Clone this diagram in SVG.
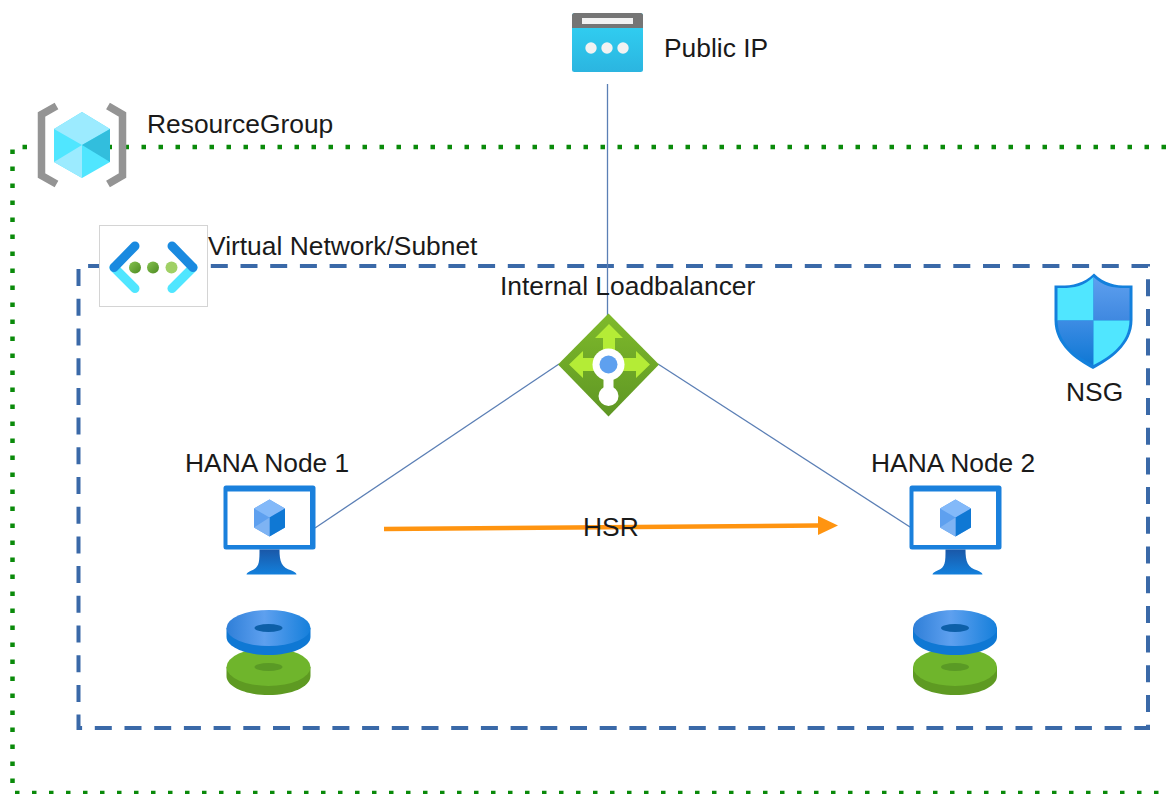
<svg xmlns="http://www.w3.org/2000/svg" xmlns:xlink="http://www.w3.org/1999/xlink" width="1170" height="794" viewBox="0 0 1170 794">
<style>
text{font-family:"Liberation Sans",Arial,sans-serif;font-size:26.4px;fill:#1a1a1a}
.thin{fill:none;stroke:#5b7fb5;stroke-width:1.3}
</style>
<defs>
<linearGradient id="ip" x1="0" y1="0" x2="0" y2="1"><stop offset="0" stop-color="#32d4f5"/><stop offset="1" stop-color="#2bb5e0"/></linearGradient>
<linearGradient id="lb" x1="0" y1="0" x2="0" y2="1"><stop offset="0" stop-color="#7fba2b"/><stop offset="1" stop-color="#5e9624"/></linearGradient>
<linearGradient id="stand" x1="0" y1="0" x2="0" y2="1"><stop offset="0" stop-color="#1a58a8"/><stop offset="1" stop-color="#1380dc"/></linearGradient>
<linearGradient id="disk" x1="0" y1="0" x2="1" y2="0"><stop offset="0" stop-color="#2f7fd8"/><stop offset=".45" stop-color="#5ea0ef"/><stop offset="1" stop-color="#157fdb"/></linearGradient>
<linearGradient id="shA" x1="0" y1="0" x2="0" y2="1"><stop offset="0" stop-color="#5ea0ef"/><stop offset="1" stop-color="#3f88e0"/></linearGradient>
<linearGradient id="shB" x1="0" y1="0" x2="0" y2="1"><stop offset="0" stop-color="#3d8ce4"/><stop offset="1" stop-color="#0f78d4"/></linearGradient>
<linearGradient id="vnA" x1="0" y1="0" x2="1" y2="1"><stop offset="0" stop-color="#86c350"/><stop offset="1" stop-color="#4d8a22"/></linearGradient>
<g id="vm">
<rect x="0" y="0" width="92" height="64" rx="2.500" fill="#1a80dc"/>
<rect x="4" y="6" width="82.500" height="53.500" fill="#fff"/>
<path d="M36 64h20c0 12 2 18 12 21 3 1 5 3 5 4H23c0-1 2-3 5-4 8-3 8-9 8-21z" fill="url(#stand)"/>
<path d="M46 14l15.500 9v19l-15.500 9-15.500-9v-19z" fill="#5ea0ef"/>
<path d="M46 14l15.500 9-15.500 9-15.500-9z" fill="#83b9f9"/>
<path d="M46 32l15.500-9v19l-15.500 9z" fill="#0f78d4"/>
<path d="M46 32l-15.500 10 15.500 9z" fill="#7eb3f3"/>
</g>
<g id="disks">
<path d="M0 58v9c0 11 19 19 42 19s42-8 42-19V58z" fill="#5e9a22"/>
<ellipse cx="42" cy="58" rx="42" ry="19" fill="#6fb52c"/>
<ellipse cx="42" cy="58" rx="14" ry="4" fill="#5a9a25"/>
<path d="M0 19v9c0 10 19 18 42 18s42-8 42-18V19z" fill="#0f78d4"/>
<ellipse cx="42" cy="19" rx="42" ry="18" fill="url(#disk)"/>
<ellipse cx="42" cy="19" rx="14" ry="4" fill="#0d5fa8"/>
</g>
</defs>
<rect width="1170" height="794" fill="#fff"/>

<g id="resource-group-frame"><path d="M1166 147H12.500V793H1170" fill="none" stroke="#0a8a0a" stroke-width="4.500" stroke-dasharray="4.500 12.500"/></g>
<g id="subnet-frame"><path d="M92 266H1148V728H78.500V266H92" fill="none" stroke="#3a69a8" stroke-width="4" stroke-dasharray="17 12.700"/></g>

<g id="connectors">
<path class="thin" d="M607.500 84V316"/>
<path class="thin" d="M559 364L315 528"/>
<path class="thin" d="M658 364L910 527"/>
<path d="M384 529L818 525.500" fill="none" stroke="#ff9410" stroke-width="4.500"/>
<path d="M818 516L838 525.500 818 535z" fill="#ff9410"/>
<text x="583" y="536">HSR</text>
</g>

<g id="public-ip">
<rect x="572" y="13" width="71" height="59" rx="2.500" fill="url(#ip)"/>
<path d="M572 28V15.500a2.500 2.500 0 0 1 2.500-2.500h66a2.500 2.500 0 0 1 2.500 2.500V28z" fill="#757575"/>
<rect x="582" y="18" width="51" height="6" fill="#f2f2f2"/>
<circle cx="591" cy="48" r="5.700" fill="#f2f2f2"/><circle cx="607" cy="48" r="5.700" fill="#f2f2f2"/><circle cx="623" cy="48" r="5.700" fill="#f2f2f2"/>
<text x="664" y="57">Public IP</text>
</g>

<g id="resource-group">
<path d="M56.500 106L41.500 114.500V175.500L56.500 184" fill="none" stroke="#949494" stroke-width="7.500"/>
<path d="M108 106L122.500 114.500V175.500L108 184" fill="none" stroke="#949494" stroke-width="7.500"/>
<path d="M82 112L110 129V162L82 178 54 162V129z" fill="#50e6ff"/>
<path d="M82 112L110 129 82 145 54 129z" fill="#9cebff"/>
<path d="M82 145L110 129V162z" fill="#32bedd"/>
<path d="M82 145V178L54 162z" fill="#9cebff"/>
<text x="147" y="133">ResourceGroup</text>
</g>

<g id="virtual-network">
<rect x="99.500" y="225.500" width="108" height="81" fill="#fff" stroke="#d4d4d4" stroke-width="1"/>
<path d="M114 267.500L135 288.500" fill="none" stroke="#50e6ff" stroke-width="9" stroke-linecap="round"/>
<path d="M135 246L114 267.500" fill="none" stroke="#1a8ae0" stroke-width="9" stroke-linecap="round"/>
<path d="M193 267.500L172 288.500" fill="none" stroke="#50e6ff" stroke-width="9" stroke-linecap="round"/>
<path d="M172 246L193 267.500" fill="none" stroke="#1a8ae0" stroke-width="9" stroke-linecap="round"/>
<circle cx="135" cy="267.500" r="6" fill="url(#vnA)"/><circle cx="153" cy="267.500" r="6" fill="url(#vnA)"/><circle cx="171.500" cy="267.500" r="6" fill="#a0d065"/>
<text x="208" y="255">Virtual Network/Subnet</text>
</g>

<g id="internal-loadbalancer">
<text x="500" y="295">Internal Loadbalancer</text>
<path d="M608.500 313.500L659 364.500 608.500 416.500 558 364.500z" fill="url(#lb)"/>
<path d="M609 324L623 338H615V352H603V338H595z" fill="#b4ec36"/>
<path d="M569 364.500L583 351V358H598V371H583V378z" fill="#b4ec36"/>
<path d="M650 364.500L636 351V358H620V371H636V378z" fill="#b4ec36"/>
<circle cx="608.500" cy="364.500" r="16" fill="#fff"/>
<circle cx="608.500" cy="396" r="10" fill="#fff"/>
<rect x="603.500" y="376" width="10" height="14" fill="#fff"/>
<circle cx="608.500" cy="364.500" r="9" fill="#5ea0ef"/>
</g>

<g id="nsg">
<path d="M1094 273.500C1106 285 1118 286 1132.500 285.500V320C1132.500 345 1110 360 1093 369 1076 360 1054.500 345 1054.500 320V285.500C1070 286 1082 285 1094 273.500z" fill="#1380dc"/>
<path d="M1093.500 277V320.500H1057.500V288C1072 288.500 1083 287 1093.500 277z" fill="#50e6ff"/>
<path d="M1093.500 277C1104 287 1115 288.500 1129.500 288V320.500H1093.500z" fill="url(#shA)"/>
<path d="M1057.500 320.500H1093.500V365C1076 356 1058 343 1057.500 320.500z" fill="url(#shB)"/>
<path d="M1093.500 320.500H1129.500C1129 343 1111 356 1093.500 365z" fill="#50e6ff"/>
<text x="1066" y="401">NSG</text>
</g>

<g id="hana-node-1">
<text x="185" y="472">HANA Node 1</text>
<use href="#vm" xlink:href="#vm" x="223.500" y="485.500"/>
<use href="#disks" xlink:href="#disks" x="226.500" y="609"/>
</g>

<g id="hana-node-2">
<text x="871" y="472">HANA Node 2</text>
<use href="#vm" xlink:href="#vm" x="909.500" y="485.500"/>
<use href="#disks" xlink:href="#disks" x="913" y="609"/>
</g>
</svg>
